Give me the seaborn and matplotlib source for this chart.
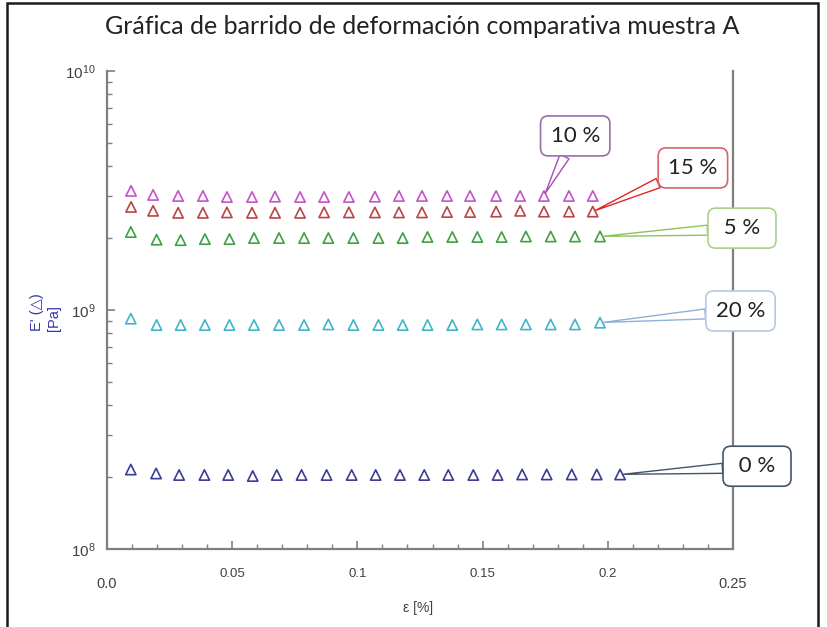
import matplotlib
matplotlib.use('Agg')
import matplotlib.pyplot as plt
import matplotlib.ticker as mticker
from matplotlib.patches import Rectangle
import seaborn as sns
import pandas as pd

# Datos (deformacion % y modulo E' en Pa)
strain_a = [0.0096, 0.0184, 0.0284, 0.0383, 0.0479, 0.0579, 0.0671, 0.0771, 0.0867, 0.0966,
            0.1070, 0.1166, 0.1258, 0.1358, 0.1450, 0.1554, 0.1650, 0.1745, 0.1845, 0.1940]
strain_b = [0.0095, 0.0198, 0.0294, 0.0391, 0.0489, 0.0587, 0.0687, 0.0787, 0.0884, 0.0984,
            0.1084, 0.1181, 0.1280, 0.1379, 0.1479, 0.1576, 0.1673, 0.1772, 0.1869, 0.1969]
strain_c = [0.0095, 0.0196, 0.0288, 0.0389, 0.0484, 0.0582, 0.0678, 0.0777, 0.0877, 0.0977,
            0.1073, 0.1170, 0.1267, 0.1363, 0.1463, 0.1560, 0.1658, 0.1756, 0.1856, 0.1956, 0.2049]

e_10 = [3.15e9, 3.03e9, 3.00e9, 3.00e9, 2.97e9, 2.97e9, 2.98e9, 2.97e9, 2.97e9, 2.97e9,
        2.98e9, 3.00e9, 3.00e9, 3.00e9, 3.00e9, 3.00e9, 3.00e9, 3.00e9, 3.00e9, 3.00e9]
e_15 = [2.70e9, 2.60e9, 2.55e9, 2.55e9, 2.56e9, 2.55e9, 2.55e9, 2.55e9, 2.56e9, 2.56e9,
        2.56e9, 2.56e9, 2.56e9, 2.57e9, 2.57e9, 2.58e9, 2.60e9, 2.58e9, 2.58e9, 2.58e9]
e_5 = [2.12e9, 1.97e9, 1.96e9, 1.98e9, 1.98e9, 2.00e9, 2.00e9, 2.00e9, 2.00e9, 2.00e9,
       2.00e9, 2.00e9, 2.02e9, 2.02e9, 2.02e9, 2.02e9, 2.03e9, 2.03e9, 2.03e9, 2.03e9]
e_20 = [9.20e8, 8.65e8, 8.65e8, 8.65e8, 8.65e8, 8.65e8, 8.65e8, 8.65e8, 8.70e8, 8.65e8,
        8.65e8, 8.65e8, 8.65e8, 8.65e8, 8.70e8, 8.70e8, 8.70e8, 8.70e8, 8.70e8, 8.85e8]
e_0 = [2.15e8, 2.07e8, 2.04e8, 2.04e8, 2.04e8, 2.02e8, 2.04e8, 2.04e8, 2.04e8, 2.04e8,
       2.04e8, 2.04e8, 2.04e8, 2.04e8, 2.04e8, 2.04e8, 2.05e8, 2.05e8, 2.05e8, 2.05e8, 2.05e8]

series = [
    ("10 %", strain_a, e_10, "#c552c8"),
    ("15 %", strain_a, e_15, "#bb4444"),
    ("5 %", strain_b, e_5, "#3fa043"),
    ("20 %", strain_b, e_20, "#3fb5c9"),
    ("0 %", strain_c, e_0, "#3b3b98"),
]

rows = []
for name, xs, ys, _ in series:
    for x, y in zip(xs, ys):
        rows.append({"muestra": name, "strain": x, "E": y})
df = pd.DataFrame(rows)

sns.set_theme(style="white")
plt.rcParams['font.family'] = ['Liberation Sans', 'DejaVu Sans']

fig = plt.figure(figsize=(8.27, 6.27), dpi=100)
ax = fig.add_axes([0.1294, 0.1244, 0.7569, 0.7624])

sns.scatterplot(data=df, x="strain", y="E", hue="muestra",
                hue_order=[s[0] for s in series],
                palette=[s[3] for s in series],
                marker="^", s=55, linewidth=1.2, legend=False, ax=ax)
coll = ax.collections[0]
coll.set_edgecolors(coll.get_facecolors())
coll.set_facecolors("white")

ax.set_yscale("log")
ax.set_xlim(0, 0.25)
ax.set_ylim(1e8, 1e10)
ax.set_xlabel("")
ax.set_ylabel("")

ax.set_xticks([0.0, 0.05, 0.1, 0.15, 0.2, 0.25])
ax.set_xticklabels(["0.0", "0.05", "0.1", "0.15", "0.2", "0.25"])
ax.xaxis.set_minor_locator(mticker.MultipleLocator(0.01))
ax.yaxis.set_minor_locator(mticker.LogLocator(base=10, subs=range(2, 10)))
ax.yaxis.set_minor_formatter(mticker.NullFormatter())

gray = "#7f7f7f"
ax.tick_params(axis="both", which="both", direction="in", colors=gray,
               labelcolor="#404040", bottom=True, left=True, top=False, right=False)
ax.tick_params(axis="both", which="major", length=6, width=1.2)
ax.tick_params(axis="both", which="minor", length=3.5, width=1.0)
ax.tick_params(axis="x", which="major", pad=14, labelsize=9.5)
ax.tick_params(axis="y", which="major", pad=8, labelsize=11)
ticks = ax.xaxis.get_major_ticks()
ticks[0].set_pad(20)
ticks[-1].set_pad(20)
for t in (ticks[0], ticks[-1]):
    t.label1.set_fontsize(10.5)

for side in ["left", "bottom", "right"]:
    ax.spines[side].set_color(gray)
    ax.spines[side].set_linewidth(1.6)
ax.spines["top"].set_visible(False)

fig.text(0.506, 0.03, "ε [%]", ha="center", va="center", fontsize=10, color="#404040")
fig.text(0.055, 0.502, "E' (△)\n[Pa]", rotation=90, ha="center", va="center",
         multialignment="left", fontsize=10.5, color="#3434b0", linespacing=1.3)

fig.text(0.51, 0.958, "Gráfica de barrido de deformación comparativa muestra A",
         ha="center", va="center", fontsize=18, color="#222222", family=["Lato", "DejaVu Sans"])

# Etiquetas tipo globo
callouts = [
    ("10 %", (strain_a[17], e_10[17]), (0.187, 5.35e9), "#9b6ea8", "#a24fb3"),
    ("15 %", (strain_a[-1], e_15[-1]), (0.234, 3.93e9), "#d9626a", "#e02525"),
    (" 5 % ", (strain_b[-1], e_5[-1]), (0.2536, 2.2e9), "#a9d18e", "#8cc45a"),
    ("20 %", (strain_b[-1], e_20[-1]), (0.253, 9.9e8), "#b4c7e7", "#8fb0d8"),
    (" 0 % ", (strain_c[-1], e_0[-1]), (0.2596, 2.22e8), "#44546a", "#44546a"),
]
for text, xy, xytext, edge, line in callouts:
    ax.annotate(text, xy=xy, xytext=xytext, textcoords="data", ha="center", va="center",
                fontsize=16, color="#222222", family=["Lato", "DejaVu Sans"],
                annotation_clip=False, zorder=5,
                bbox=dict(boxstyle="round,pad=0.45,rounding_size=0.35", fc="white",
                          ec=edge, lw=1.2),
                arrowprops=dict(arrowstyle="wedge,tail_width=0.45,shrink_factor=0.5",
                                fc="white", ec=line, lw=1.0, shrinkA=0, shrinkB=2))

# Marco exterior
fig.patches.append(Rectangle((0.008, -0.05), 0.981, 1.045, transform=fig.transFigure,
                             fill=False, ec="#1a1a1a", lw=1.8, figure=fig))

fig.savefig("out.png", dpi=100)
